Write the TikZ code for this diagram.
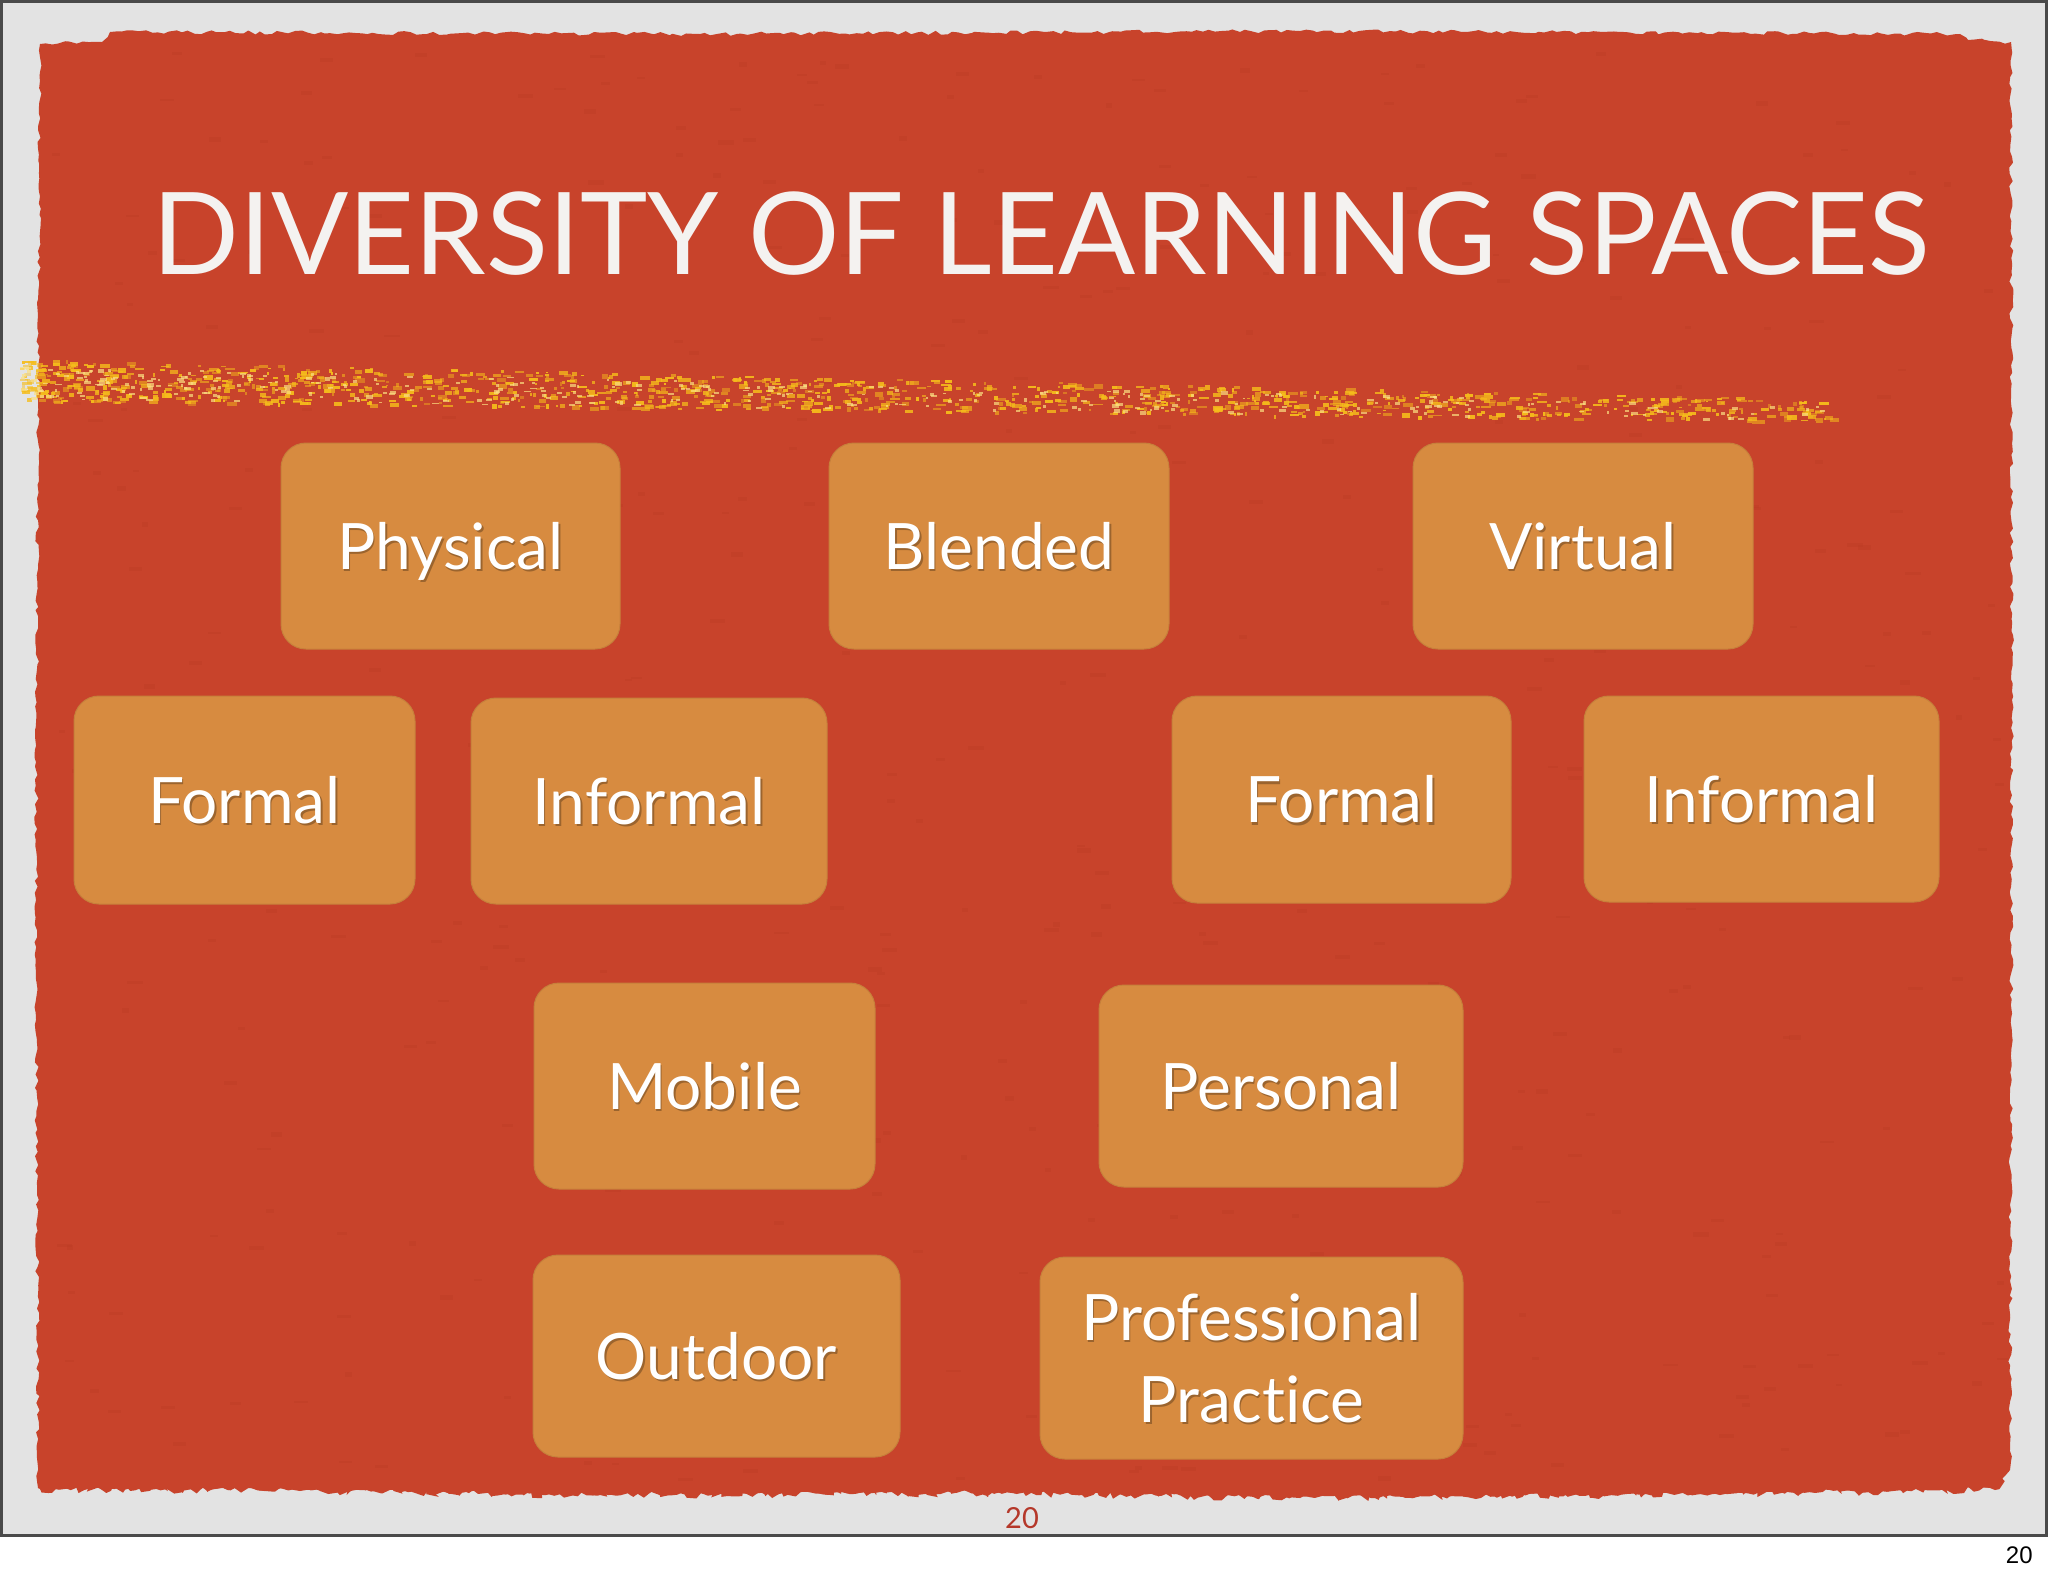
\documentclass[tikz,border=0pt]{standalone}
\usepackage{fontspec}
\setmainfont{Lato}[Ligatures={NoCommon}]
\newfontfamily\pnfont{Liberation Sans}
\usetikzlibrary{decorations.pathmorphing,calc}
\definecolor{pagebg}{HTML}{E3E3E3}
\definecolor{framegray}{HTML}{4A4A4A}
\definecolor{redbg}{HTML}{C8432B}
\definecolor{reddark}{HTML}{BC3B25}
\definecolor{boxfill}{HTML}{D78B40}
\definecolor{streak}{HTML}{F7C41A}
\definecolor{streakb}{HTML}{F0A21C}
\definecolor{pnum}{HTML}{B5382A}
\definecolor{titlecol}{HTML}{F4F2F0}
\tikzset{
  spacebox/.style={rectangle, rounded corners=12.5pt, fill=boxfill, draw=boxfill!92!black, line width=0.5pt, inner sep=0pt},
  lbl/.style={text=white, font=\fontsize{32}{41}\selectfont, align=center, text height=23pt, text depth=0pt, inner sep=0pt},
  lblshadow/.style={lbl, text=black, opacity=0.28},
}
\newcommand\spacenode[7][]{%
  \node[spacebox, minimum width=#5, minimum height=#6] (#2) at (#3,#4) {};
  \node[lblshadow,#1] (#2-s) at ([shift={(1.5,2.5)}]#2.center) {#7};
  \node[lbl,#1] (#2-t) at (#2.center) {#7};
}
\begin{document}
\begin{tikzpicture}[x=0.5pt,y=-0.5pt]
\useasboundingbox (0,0) rectangle (2048,1576);
% page
\fill[white] (0,0) rectangle (2048,1576);
\fill[pagebg] (0,0) rectangle (2048,1536);
\draw[framegray, line width=1.5pt] (1.5,1.5) rectangle (2046.5,1535);
% red painted area
\pgfmathsetseed{7}
\fill[redbg, decorate, decoration={random steps, segment length=3pt, amplitude=1pt}]
  (40,44) -- (102,42) -- (110,32) -- (700,34) -- (1300,31) -- (1960,34) -- (1968,40) -- (2011,42)
  -- (2012,700) -- (2010,1470) -- (1995,1488) -- (1700,1494) -- (1300,1497) -- (1000,1492)
  -- (600,1494) -- (300,1490) -- (38,1488) -- (36,900) -- (38,400) -- cycle;
\fill[redbg, decorate, decoration={random steps, segment length=2.5pt, amplitude=2pt}]
  (40,1470) -- (2008,1470) -- (1995,1490) -- (1700,1494) -- (1300,1498) -- (1000,1493)
  -- (600,1495) -- (300,1491) -- (40,1489) -- cycle;
% faint texture
\foreach \i in {1,...,500}{
  \pgfmathsetmacro\rx{50+1950*rnd}
  \pgfmathsetmacro\ry{50+1430*rnd}
  \fill[reddark, opacity=0.35] (\rx,\ry) rectangle ++(6+10*rnd,2+3*rnd);
}
% yellow streak
\foreach \i in {1,...,1150}{
  \pgfmathsetmacro\t{rnd^1.25}
  \pgfmathsetmacro\rx{20+1810*\t}
  \pgfmathsetmacro\yc{380+30*\t}
  \pgfmathsetmacro\th{21-10*\t}
  \pgfmathsetmacro\ry{\yc+(2*rnd-1)*\th}
  \pgfmathsetmacro\op{0.4+0.55*rnd}
  \fill[streak!80!streakb, opacity=\op] (\rx,\ry) rectangle ++(2+8*rnd,1.5+3*rnd);
}
\foreach \i in {1,...,350}{
  \pgfmathsetmacro\t{rnd^1.4}
  \pgfmathsetmacro\rx{20+1800*\t}
  \pgfmathsetmacro\yc{382+30*\t}
  \pgfmathsetmacro\th{16-8*\t}
  \pgfmathsetmacro\ry{\yc+(2*rnd-1)*\th}
  \fill[streak!55!white, opacity=0.7] (\rx,\ry) rectangle ++(2+5*rnd,1.5+2*rnd);
}
% title
\node[anchor=base west, inner sep=0pt, text=titlecol, font=\fontsize{57.1}{60}\selectfont] (title) at (152,274) {DIVERSITY OF LEARNING SPACES};
% boxes
\spacenode{physical}{450.5}{546}{169.5pt}{103pt}{Physical}
\spacenode{blended}{999}{546}{170pt}{103pt}{Blended}
\spacenode{virtual}{1583}{546}{170pt}{103pt}{Virtual}
\spacenode{formalL}{244.5}{800}{170.5pt}{104pt}{Formal}
\spacenode{informalL}{649}{801}{178pt}{103pt}{Informal}
\spacenode{formalR}{1341.5}{799.5}{169.5pt}{103.5pt}{Formal}
\spacenode{informalR}{1761.5}{799}{177.5pt}{103pt}{Informal}
\spacenode{mobile}{704.5}{1086}{170.5pt}{103pt}{Mobile}
\spacenode{personal}{1281}{1086}{182pt}{101pt}{Personal}
\spacenode{outdoor}{716.5}{1356}{183.5pt}{101pt}{Outdoor}
\spacenode[text height=64pt]{prof}{1251.5}{1358}{211.5pt}{101pt}{Professional\\Practice}
% page numbers
\node[text=pnum, font=\fontsize{14.5}{16}\selectfont, inner sep=0pt, anchor=base] (pnred) at (1022,1528) {20};
\node[text=black, font=\pnfont\fontsize{12}{14}\selectfont, inner sep=0pt, anchor=base east] (pnblack) at (2033,1563) {20};
\end{tikzpicture}
\end{document}
